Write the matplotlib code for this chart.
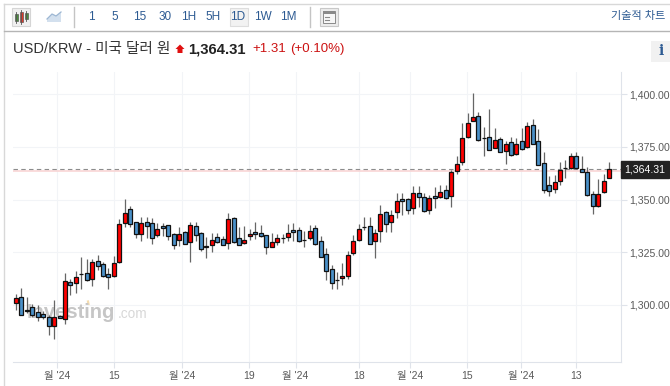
import matplotlib
matplotlib.use('Agg')
import matplotlib.pyplot as plt
from matplotlib.patches import Rectangle, Polygon

plt.rcParams['font.family'] = ['Liberation Sans', 'Noto Sans CJK KR', 'DejaVu Sans']

# daily candles
opens = [1300.6,1303.4,1297.2,1298.7,1296.3,1295.6,1294.0,1289.8,1294.7,1293.1,
         1310.9,1310.4,1314.5,1315.0,1312.0,1320.6,1319.1,1314.5,1313.6,1320.4,
         1338.8,1345.3,1339.3,1333.4,1339.3,1338.8,1333.0,1337.2,1337.7,1333.4,
         1330.9,1334.4,1329.6,1337.2,1333.9,1327.2,1328.5,1332.1,1331.3,1329.1,
         1341.0,1331.8,1329.1,1332.6,1334.7,1333.9,1333.0,1327.2,1329.6,1331.9,
         1332.1,1335.5,1335.5,1330.7,1331.7,1336.3,1330.1,1323.9,1316.8,1311.8,
         1312.5,1313.7,1324.7,1330.9,1336.9,1337.2,1330.4,1335.1,1343.9,1339.1,
         1343.9,1350.1,1350.1,1346.0,1353.1,1351.3,1345.1,1351.5,1351.0,1354.4,
         1351.8,1363.6,1368.0,1379.9,1387.4,1389.6,1379.5,1379.9,1374.7,1378.7,
         1373.2,1377.4,1371.5,1377.9,1374.9,1385.3,1377.9,1367.4,1356.9,1355.1,
         1358.8,1365.1,1365.1,1370.9,1364.4,1363.1,1352.6,1346.8,1353.6,1360.1]
highs = [1305.0,1308.0,1303.7,1300.2,1299.8,1297.0,1295.0,1302.1,1295.0,1314.9,
         1312.0,1316.0,1322.8,1321.5,1321.5,1323.6,1320.4,1317.2,1323.1,1340.6,
         1350.2,1346.9,1339.4,1341.5,1341.5,1341.0,1338.7,1339.0,1338.0,1334.2,
         1336.8,1335.1,1339.4,1339.4,1334.4,1332.3,1334.2,1333.9,1332.6,1343.4,
         1341.5,1336.8,1337.4,1335.8,1339.3,1337.7,1333.2,1334.2,1333.6,1333.6,
         1338.3,1338.7,1336.8,1335.1,1337.7,1337.9,1332.6,1326.8,1318.8,1315.6,
         1319.6,1325.5,1333.1,1338.2,1341.5,1341.8,1335.8,1347.4,1344.4,1345.0,
         1353.2,1353.2,1350.6,1356.4,1356.4,1353.0,1352.1,1355.8,1356.9,1356.9,
         1364.0,1370.9,1386.3,1391.0,1400.6,1391.8,1384.7,1393.1,1383.9,1379.9,
         1377.9,1379.6,1379.1,1384.2,1386.8,1388.2,1383.4,1372.5,1361.3,1361.7,
         1367.7,1368.8,1372.0,1372.8,1370.7,1365.6,1354.0,1359.6,1362.1,1367.7]
lows = [1297.4,1294.9,1296.1,1294.2,1292.3,1293.0,1285.5,1283.7,1293.4,1290.9,
        1304.5,1305.6,1307.2,1311.2,1308.8,1316.4,1313.0,1307.2,1313.2,1319.9,
        1337.0,1337.0,1331.8,1330.4,1331.8,1328.7,1332.3,1332.6,1330.7,1326.6,
        1327.9,1328.7,1320.4,1330.4,1325.6,1322.3,1324.9,1329.4,1328.2,1326.6,
        1329.4,1328.2,1328.7,1330.7,1331.3,1332.0,1324.0,1327.2,1328.2,1329.4,
        1330.4,1330.4,1329.9,1327.5,1330.7,1328.5,1322.8,1311.7,1307.5,1307.2,
        1309.3,1312.0,1323.6,1330.4,1335.5,1328.8,1322.0,1329.9,1334.4,1334.4,
        1341.3,1342.6,1343.0,1343.0,1346.3,1344.2,1343.0,1345.8,1350.6,1350.2,
        1346.3,1362.0,1366.4,1379.4,1387.4,1378.0,1370.9,1373.6,1374.4,1372.5,
        1366.9,1370.9,1371.2,1373.7,1374.7,1376.4,1366.4,1353.0,1351.7,1353.0,
        1356.9,1360.2,1364.7,1364.4,1363.0,1351.7,1343.1,1346.6,1353.0,1360.1]
closes = [1303.0,1294.9,1297.0,1295.1,1294.0,1294.0,1289.8,1294.2,1293.6,1311.2,
          1309.4,1313.0,1314.4,1311.5,1320.1,1318.5,1313.6,1313.0,1319.6,1338.2,
          1343.4,1338.2,1333.4,1338.8,1337.5,1331.8,1335.8,1336.3,1332.6,1328.5,
          1333.4,1328.7,1337.7,1333.0,1326.6,1328.0,1330.9,1329.6,1328.5,1340.6,
          1329.6,1328.5,1330.9,1333.4,1333.4,1332.6,1327.2,1329.6,1331.8,1331.8,
          1333.9,1334.7,1330.1,1330.6,1335.1,1328.7,1322.8,1315.8,1310.4,1311.7,
          1313.7,1323.4,1330.4,1335.8,1336.8,1328.8,1333.9,1343.0,1338.5,1342.6,
          1349.3,1349.3,1344.9,1353.1,1351.0,1344.4,1350.6,1350.6,1353.6,1350.6,
          1363.2,1366.8,1379.1,1386.3,1389.1,1378.2,1379.4,1373.7,1378.2,1372.8,
          1376.6,1371.0,1376.3,1373.9,1384.9,1376.6,1366.6,1354.4,1354.2,1358.5,
          1363.9,1365.0,1370.7,1364.9,1363.1,1352.0,1346.8,1352.6,1358.7,1364.31]

y_ticks = [1300, 1325, 1350, 1375, 1400]
y_labels = ['1,300.00', '1,325.00', '1,350.00', '1,375.00', '1,400.00']
x_ticks = [7.5, 18, 30.5, 42.9, 51.4, 63, 72.4, 82.9, 92.8, 102.9]
x_labels = ["월 '24", '15', "월 '24", '19', "월 '24", '18', "월 '24", '15', "월 '24", '13']
last_price = 1364.31
periods = ['1', '5', '15', '30', '1H', '5H', '1D', '1W', '1M']
period_x = [91, 115, 140, 165, 189, 213, 238, 263, 288]

W, H = 670, 386
fig = plt.figure(figsize=(6.7, 3.86), dpi=100)

# overlay in pixels for the page furniture
bg = fig.add_axes([0, 0, 1, 1])
bg.set_xlim(0, W)
bg.set_ylim(H, 0)
bg.axis('off')

bg.plot([3.5, 670], [3.5, 3.5], color='#d8d8d8', lw=1)
bg.plot([3.5, 3.5], [3.5, 386], color='#d8d8d8', lw=1)
bg.plot([3.5, 670], [30.5, 30.5], color='#b5b5b5', lw=1)
bg.plot([73.5, 73.5], [7, 27], color='#c4c4c4', lw=1)
bg.plot([309.5, 309.5], [7, 27], color='#c4c4c4', lw=1)

# candle button
bg.add_patch(Rectangle((12, 8), 18, 18, fc='#f0f0f0', ec='#d5d5d5', lw=0.8))
for cx, top, bot, col in [(16, 14, 21, '#4a8f3c'), (21, 12, 22, '#e03a2a'), (26, 13, 19, '#4a8f3c')]:
    bg.plot([cx, cx], [top - 2, bot + 2], color='#555555', lw=0.6)
    bg.add_patch(Rectangle((cx - 1.5, top), 3, bot - top, fc=col, ec='#444444', lw=0.4))
# area button
bg.add_patch(Polygon([(47, 19), (52, 14), (56, 16), (61, 12), (61, 22), (47, 22)], fc='#d3e0ee', ec='none'))
bg.plot([47, 52, 56, 61], [19, 14, 16, 12], color='#9db7d3', lw=0.9)
# 1D highlight
bg.add_patch(Rectangle((229.5, 8), 18, 18, fc='#f2f2f2', ec='#dddddd', lw=0.8))
for p, px in zip(periods, period_x):
    bg.text(px, 16.5, p, color='#2c5a92', fontsize=8.5, ha='center', va='center')
# layout button
bg.add_patch(Rectangle((320, 8), 18, 18, fc='#ececec', ec='#c8c8c8', lw=0.8))
bg.add_patch(Rectangle((323, 11), 12, 12, fc='#f7f7f7', ec='#8a8a8a', lw=0.7))
bg.add_patch(Rectangle((323, 11), 12, 3, fc='#8a8a8a', ec='none'))
bg.plot([325, 329], [17, 17], color='#8a8a8a', lw=0.8)
bg.plot([325, 329], [20, 20], color='#8a8a8a', lw=0.8)
bg.text(665, 15.5, '기술적 차트', color='#2c5a92', fontsize=8, ha='right', va='center')

# headline
bg.text(13, 49, 'USD/KRW - 미국 달러 원', color='#333333', fontsize=10.5, ha='left', va='center')
bg.add_patch(Polygon([(180, 44.5), (184.5, 49), (182.5, 49), (182.5, 53), (177.5, 53), (177.5, 49), (175.5, 49)],
                     fc='#e01010', ec='none'))
bg.text(188, 49, '1,364.31', color='#222222', fontsize=10.7, fontweight='bold', ha='left', va='center')
bg.text(252, 49, '+1.31', color='#cc1111', fontsize=9.5, ha='left', va='center')
bg.text(290, 49, '(+0.10%)', color='#cc1111', fontsize=9.5, ha='left', va='center')
bg.add_patch(Rectangle((651, 41), 19, 21, fc='#f1f1f1', ec='none'))
bg.text(661, 51, 'i', color='#2c5a92', fontsize=10, fontweight='bold', family='DejaVu Serif', ha='center', va='center')

# price pane: 5.44 px per candle, first candle at x=16, 2.1 px per won
ax = fig.add_axes([13 / W, 1 - 361.7 / H, (620.5 - 13) / W, (361.7 - 72) / H])
ax.patch.set_alpha(0)
ax.set_xlim(-0.55, 111.12)
ax.set_ylim(1272.8, 1410.7)
ax.set_xticks(x_ticks)
ax.set_xticklabels(x_labels)
ax.set_yticks(y_ticks)
ax.set_yticklabels(y_labels)
ax.yaxis.tick_right()
ax.grid(color='#f2f4f7', lw=0.8)
ax.set_axisbelow(True)
ax.tick_params(axis='x', length=4, color='#dfe3ea', labelcolor='#5a5a5a', labelsize=7.5, pad=3)
ax.tick_params(axis='y', length=4, color='#dfe3ea', labelcolor='#5a5a5a', labelsize=7.6, pad=2)
for s in ['top', 'left']:
    ax.spines[s].set_visible(False)
for s in ['right', 'bottom']:
    ax.spines[s].set_color('#dfe3ea')

# watermark
ax.text(0.023, 0.169, 'Investing', transform=ax.transAxes, color='#c6c6c6', fontsize=14.5, fontweight='bold',
        va='center', ha='left', zorder=1)
ax.text(0.172, 0.165, '.com', transform=ax.transAxes, color='#d8d8d8', fontsize=9.8,
        va='center', ha='left', zorder=1)
bg.plot([88, 88.5], [301.5, 304], color='#f5dcae', lw=1.6)

# last price line
ax.axhline(last_price - 0.6, color='#f9d5d5', lw=1.2, zorder=2)
ax.axhline(last_price, color='#8c8c8c', lw=0.8, ls=(0, (4, 3)), zorder=2)

for i in range(len(opens)):
    o, h, l, c = opens[i], highs[i], lows[i], closes[i]
    col = '#ff0000' if c >= o else '#4a90c8'
    ax.vlines(i, l, h, color='#666666', lw=0.9, zorder=3)
    ax.bar(i, abs(c - o), bottom=min(o, c), width=0.74, color=col, edgecolor='#111111', lw=0.9, zorder=4)

# last price tag
ax.annotate('1,364.31', xy=(1, last_price), xycoords=('axes fraction', 'data'), xytext=(17.5, 0),
            textcoords='offset points', color='white', fontsize=7.6, ha='center', va='center',
            bbox=dict(boxstyle='square,pad=0.35', fc='#222222', ec='#222222'), annotation_clip=False, zorder=6)

fig.savefig('out.png', dpi=100)
